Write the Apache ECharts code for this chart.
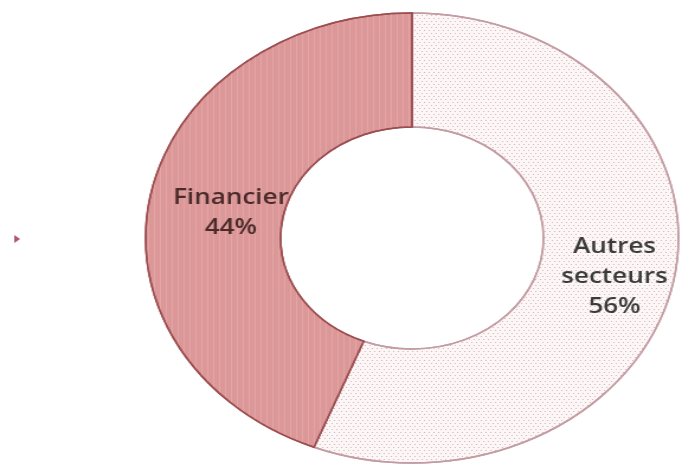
<!DOCTYPE html>
<html>
<head>
<meta charset="utf-8">
<script src="https://cdn.jsdelivr.net/npm/echarts@6/dist/echarts.min.js"></script>
<style>
  html, body { margin: 0; padding: 0; background: #fff; overflow: hidden; }
  /* the donut in the picture is an ellipse, so the chart is stretched sideways */
  #chartPie { width: 577px; height: 470px; transform: scaleX(1.184); transform-origin: 0 0; }
</style>
</head>
<body>
<div id="chartPie"></div>
<script>
// données
const sectors = ['Autres\nsecteurs', 'Financier'];
const shares = [56, 44];

const chartPie = echarts.init(document.getElementById('chartPie'));

// style de chaque part
const sliceStyles = [
  {
    color: '#fdf6f6',
    borderColor: '#c29ca2',
    borderWidth: 1.5,
    decal: {
      symbol: 'rect',
      symbolSize: 1,
      color: 'rgba(175, 135, 140, 0.55)',
      dashArrayX: [[1, 3], [0, 2, 1, 1]],
      dashArrayY: [1, 2],
      rotation: 0
    }
  },
  {
    color: '#dc9898',
    borderColor: '#9b4d4f',
    borderWidth: 1.5,
    decal: {
      symbol: 'rect',
      symbolSize: 1,
      color: 'rgba(235, 175, 175, 0.55)',
      dashArrayX: [1, 4],
      dashArrayY: [1, 0],
      rotation: 0
    }
  }
];
const labelColors = ['#3a3a3a', '#4a2a2a'];
// décalage des étiquettes
const labelPads = [[0, 0, 0, 6], [0, 0, 0, 30]];
const labelShift = [[0, 7], [0, 7]];

const pieData = sectors.map((name, i) => ({
  name: name,
  value: shares[i],
  itemStyle: sliceStyles[i],
  label: { color: labelColors[i], padding: labelPads[i], offset: labelShift[i] }
}));

const option = {
  animation: false,
  series: [
    {
      type: 'pie',
      center: [348, 238],
      radius: [111, 225],
      startAngle: 90,
      clockwise: true,
      data: pieData,
      label: {
        show: true,
        position: 'inside',
        formatter: p => p.name + '\n' + p.value + '%',
        fontFamily: 'Open Sans',
        fontSize: 22,
        fontWeight: 600,
        lineHeight: 30,
        align: 'center'
      },
      labelLine: { show: false },
      emphasis: { disabled: true }
    }
  ],
  graphic: [
    {
      // petite marque à gauche
      type: 'polygon',
      shape: { points: [[12, 235], [17, 239], [12, 243]] },
      style: { fill: '#b0566a' }
    }
  ]
};

chartPie.setOption(option);
</script>
</body>
</html>
